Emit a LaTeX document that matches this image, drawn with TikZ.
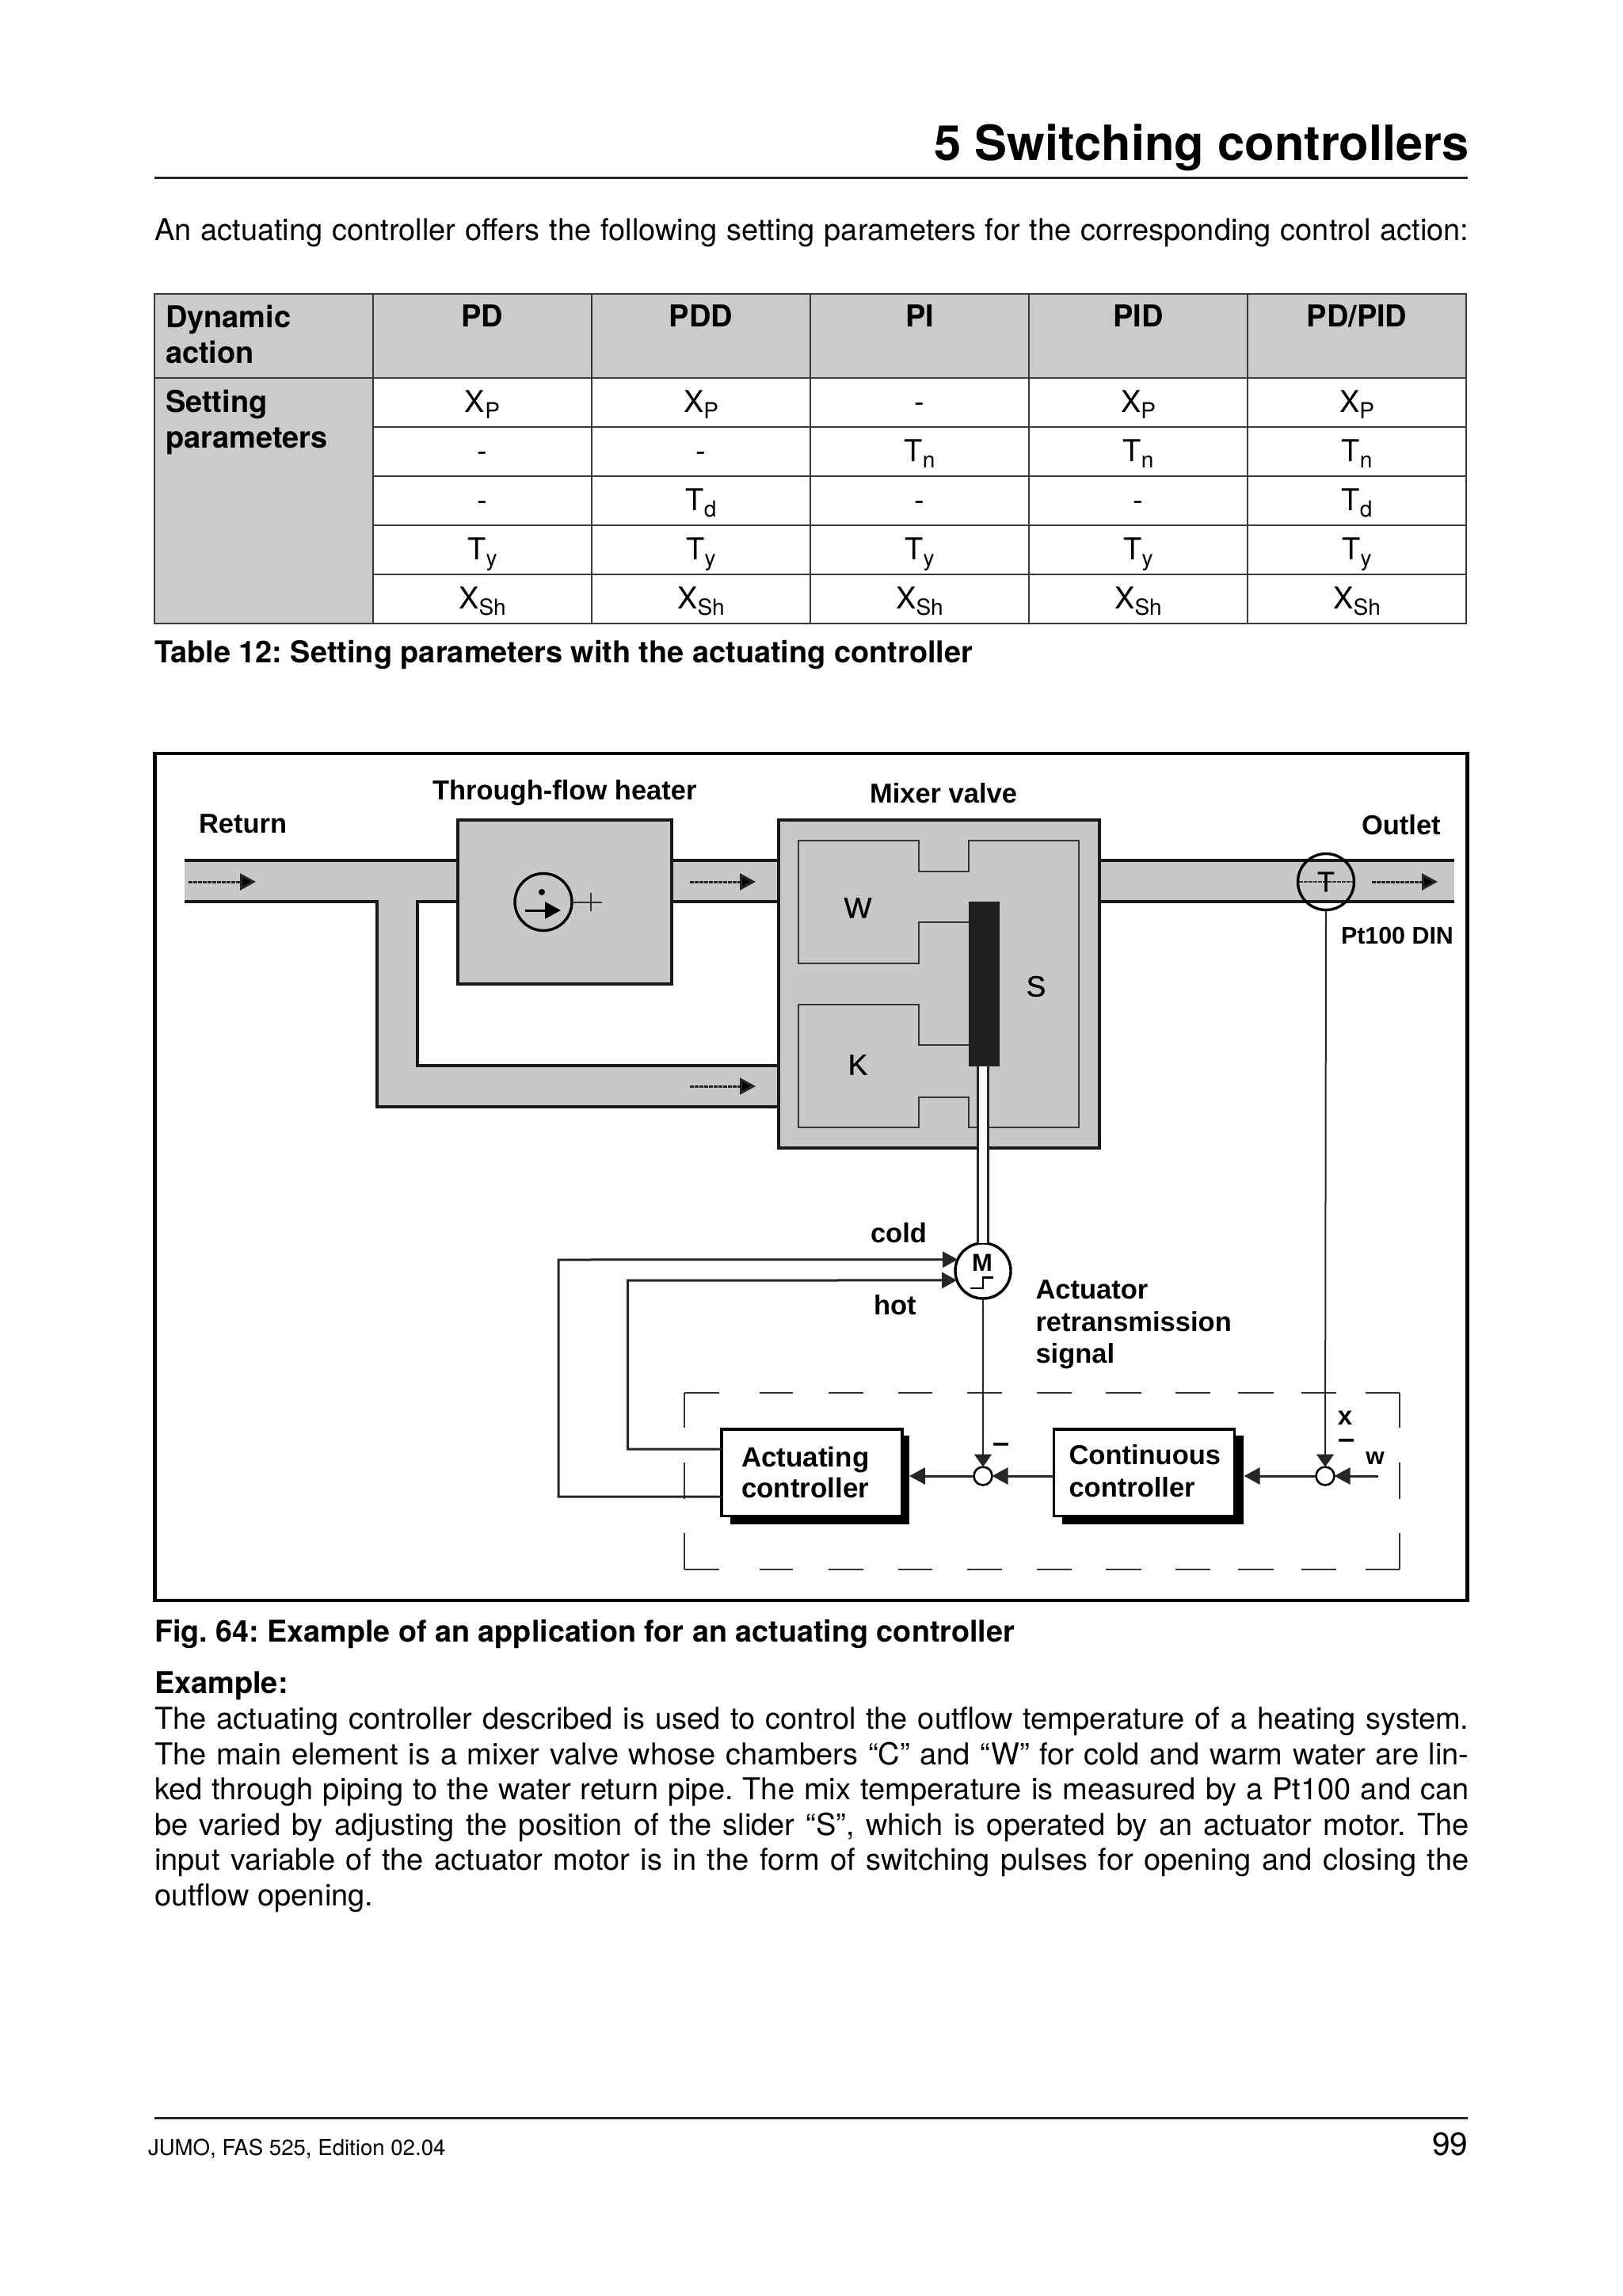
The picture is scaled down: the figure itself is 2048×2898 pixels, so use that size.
\documentclass[tikz,border=0pt]{standalone}
\usepackage{fontspec}
\setmainfont{TeX Gyre Heros}
\newfontfamily\figfont{Liberation Sans}
\newfontfamily\figmed[FakeBold=0.7]{Liberation Sans}
\usetikzlibrary{arrows.meta,calc,shapes.geometric}
\newcommand\fs[2]{\fontsize{#1}{#2}\selectfont}
\newcommand\subs[2]{#1\raisebox{-8pt}{\fs{28}{28}#2}}
\definecolor{pipegray}{HTML}{C8C8C8}
\definecolor{tablegray}{HTML}{CBCBCB}
\definecolor{tableline}{HTML}{3A3A3A}
\tikzset{
  txt/.style={inner sep=0pt,outer sep=0pt,anchor=base west,font=\fs{38}{45}},
  txtb/.style={txt,font=\fs{38}{45}\bfseries},
  cell/.style={inner sep=0pt,outer sep=0pt,anchor=base,font=\fs{38}{45}},
  cellb/.style={cell,font=\fs{38}{45}\bfseries},
  lab/.style={inner sep=0pt,outer sep=0pt,anchor=base west,font=\figfont\fs{34.5}{40}\bfseries},
  labc/.style={inner sep=0pt,outer sep=0pt,anchor=center,font=\figmed\fs{37}{40}},
  pipefill/.style={fill=pipegray,draw=none},
  pipeline/.style={line width=3.6pt,draw=black!90},
  blockg/.style={draw=black!90,fill=pipegray,line width=3.6pt,inner sep=0pt,outer sep=0pt},
  ctrl/.style={draw=black,fill=white,line width=3.4pt,inner sep=0pt,outer sep=0pt,align=left,
     minimum height=109.5pt,minimum width=228pt},
  sumc/.style={circle,draw=black,fill=white,line width=2.6pt,minimum size=23pt,inner sep=0pt,outer sep=0pt},
  sig/.style={line width=3pt,draw=black!85},
  sigthin/.style={line width=2pt,draw=black!85},
  arrowtip/.style={-{Triangle[length=20pt,width=21pt]}},
  arrowdown/.style={-{Triangle[length=16pt,width=22pt]}},
  flow/.style={line width=3pt,draw=black!85,dash pattern=on 5pt off 1pt,-{Triangle[length=20pt,width=21pt,fill=black,sep=0pt]}},
  dashseg/.style={line width=2.8pt,draw=black!80},
}
\newcommand\tabrow[7]{%
  \node[cell] (r#1a) at (609,#2) {#3};
  \node[cell] (r#1b) at (885,#2) {#4};
  \node[cell] (r#1c) at (1161,#2) {#5};
  \node[cell] (r#1d) at (1437,#2) {#6};
  \node[cell] (r#1e) at (1713,#2) {#7};}
\begin{document}
\frenchspacing
\begin{tikzpicture}[x=1pt,y=-1pt]
\useasboundingbox (0,0) rectangle (2048,2898);
\fill[white] (0,0) rectangle (2048,2898);

% ---------- header
\node[inner sep=0pt,outer sep=0pt,anchor=base east,font=\fs{61.4}{70}\bfseries] (title) at (1855,203) {5 Switching controllers};
\draw[line width=3pt,draw=black!85] (195,224) -- (1853,224);
\node[txt] (intro) at (195,303) {\makebox[1659.5pt][s]{An actuating controller offers the following setting parameters for the corresponding control action:}};

% ---------- table
\fill[tablegray] (195,371) rectangle (1851,477);
\fill[tablegray] (195,477) rectangle (471,787);
\draw[line width=2pt,draw=tableline] (195,371) rectangle (1851,787);
\draw[line width=2pt,draw=tableline] (195,477) -- (1851,477);
\foreach \yy in {539,601,663,725} \draw[line width=2pt,draw=tableline] (471,\yy) -- (1851,\yy);
\foreach \xx in {471,747,1023,1299,1575} \draw[line width=1.6pt,draw=tableline] (\xx,371) -- (\xx,787);
\node[txtb] (h0a) at (209,413) {Dynamic};
\node[txtb] (h0b) at (209,458) {action};
\node[cellb] (h1) at (609,412.5) {PD};
\node[cellb] (h2) at (885,412.5) {PDD};
\node[cellb] (h3) at (1161,412.5) {PI};
\node[cellb] (h4) at (1437,412.5) {PID};
\node[cellb] (h5) at (1713,412.5) {PD/PID};
\node[txtb] (s0a) at (209,520) {Setting};
\node[txtb] (s0b) at (209,565) {parameters};
\tabrow{1}{520}{\subs{X}{P}}{\subs{X}{P}}{-}{\subs{X}{P}}{\subs{X}{P}}
\tabrow{2}{582.5}{-}{-}{\subs{T}{n}}{\subs{T}{n}}{\subs{T}{n}}
\tabrow{3}{644.5}{-}{\subs{T}{d}}{-}{-}{\subs{T}{d}}
\tabrow{4}{706.5}{\subs{T}{y}}{\subs{T}{y}}{\subs{T}{y}}{\subs{T}{y}}{\subs{T}{y}}
\tabrow{5}{768}{\subs{X}{Sh}}{\subs{X}{Sh}}{\subs{X}{Sh}}{\subs{X}{Sh}}{\subs{X}{Sh}}
\node[txtb,font=\fs{37.9}{45}\bfseries] (tabcap) at (195,836) {Table 12: Setting parameters with the actuating controller};

% ---------- figure frame
\draw[line width=4.4pt,draw=black] (195.5,951) rectangle (1852.5,2020);

% pipes
\path[pipefill] (233,1086) -- (578,1086) -- (578,1138) -- (527,1138) -- (527,1345) -- (983,1345) -- (983,1397) -- (476,1397) -- (476,1138) -- (233,1138) -- cycle;
\path[pipefill] (848,1086) rectangle (983,1138);
\path[pipefill] (1388,1086) rectangle (1836,1138);
\draw[pipeline] (233,1086) -- (578,1086);
\draw[pipeline] (233,1138) -- (476,1138) -- (476,1397) -- (983,1397);
\draw[pipeline] (578,1138) -- (527,1138) -- (527,1345) -- (983,1345);
\draw[pipeline] (848,1086) -- (983,1086);
\draw[pipeline] (848,1138) -- (983,1138);
\draw[pipeline] (1388,1086) -- (1836,1086);
\draw[pipeline] (1388,1138) -- (1836,1138);

% heater and valve
\node[blockg,minimum width=270pt,minimum height=207pt] (heater) at (713,1138.5) {};
\node[blockg,minimum width=405pt,minimum height=414pt] (valve) at (1185.5,1242) {};
\draw[line width=2.8pt,draw=black!80] (1223,1164) -- (1160,1164) -- (1160,1216) -- (1008,1216) -- (1008,1061) -- (1160,1061) -- (1160,1100) -- (1223,1100) -- (1223,1061) -- (1362,1061) -- (1362,1423) -- (1223,1423) -- (1223,1385) -- (1160,1385) -- (1160,1423) -- (1008,1423) -- (1008,1268) -- (1160,1268) -- (1160,1319) -- (1223,1319);
\node[draw=none,fill=black!88,inner sep=0pt,outer sep=0pt,minimum width=39pt,minimum height=208pt] (slider) at (1242.5,1242) {};
\node[labc] (lw) at (1083,1146) {W};
\node[labc] (ls) at (1308,1245) {S};
\node[labc] (lk) at (1083,1344) {K};

% heater symbol
\node[circle,draw=black,line width=3.4pt,minimum size=72pt,inner sep=0pt,outer sep=0pt] (hsym) at (686,1138.5) {};
\fill[black] (684,1126) circle (4pt);
\coordinate (ha) at (663,1149);
\coordinate (hb) at (708,1149);
\draw[line width=3pt,-{Triangle[length=20pt,width=21pt]}] (ha) -- (hb);
\coordinate (hp) at (760,1138.5);
\draw[line width=2pt,draw=black!80] (hsym.east) -- (hp);
\draw[line width=2pt,draw=black!80] (746,1127) -- (746,1150);

% flow arrows
\coordinate (f1a) at (238,1113); \coordinate (f1b) at (323,1113);
\coordinate (f2a) at (871,1113); \coordinate (f2b) at (954,1113);
\coordinate (f3a) at (871,1371); \coordinate (f3b) at (954,1371);
\coordinate (f4a) at (1732,1113); \coordinate (f4b) at (1815,1113);
\draw[flow] (f1a) -- (f1b);
\draw[flow] (f2a) -- (f2b);
\draw[flow] (f3a) -- (f3b);
\draw[flow] (f4a) -- (f4b);

% sensor
\coordinate (tl) at (1640,1113); \coordinate (tr) at (1709,1113);
\draw[line width=2.4pt,draw=black!80,dash pattern=on 5pt off 1pt] (tl) -- (tr);
\node[circle,draw=black,line width=3.4pt,minimum size=71pt,inner sep=0pt,outer sep=0pt,font=\figmed\fs{36}{36}] (tsens) at (1674,1113) {T};

% figure labels
\node[lab] (lret) at (251,1051) {Return};
\node[lab] (lheat) at (546,1009) {Through-flow heater};
\node[lab] (lmix) at (1098,1013) {Mixer valve};
\node[lab] (lout) at (1719,1053) {Outlet};
\node[lab,font=\figfont\fs{30.4}{34}\bfseries] (lpt) at (1693,1191) {Pt100 DIN};
\node[lab] (lcold) at (1099,1568.5) {cold};
\node[lab] (lhot) at (1103,1659) {hot};
\node[lab] (la1) at (1307.5,1639) {Actuator};
\node[lab] (la2) at (1307.5,1680) {retransmission};
\node[lab] (la3) at (1307.5,1720) {signal};
\node[labc,font=\figfont\fs{33}{33}\bfseries] (lx) at (1698,1790) {x};
\node[labc,font=\figfont\fs{30}{30}\bfseries] (lwl) at (1736,1841) {w};
\node[lab,anchor=base,font=\figfont\fs{38}{38}\bfseries] (lm1) at (1264.5,1833) {–};
\node[lab,anchor=base,font=\figfont\fs{38}{38}\bfseries] (lm2) at (1700.5,1828) {–};

% dashed enclosure
\foreach \aa/\bb in {864/908,958.6/1001.4,1045.8/1090.2,1133.8/1177.4,1221/1265.4,1309/1353.4,1396.3/1440.7,1483.6/1528,1563/1607.5,1642.7/1687,1724/1767}{
  \draw[dashseg] (\aa,1758) -- (\bb,1758);
  \draw[dashseg] (\aa,1981) -- (\bb,1981);
}
\foreach \xx in {864,1767}{
  \draw[line width=2pt,draw=black!80] (\xx,1758) -- (\xx,1802);
  \draw[line width=2pt,draw=black!80] (\xx,1846) -- (\xx,1892);
  \draw[line width=2pt,draw=black!80] (\xx,1935) -- (\xx,1981);
}

% motor
\node[circle,draw=black,fill=white,line width=3.4pt,minimum size=70pt,inner sep=0pt,outer sep=0pt] (motor) at (1241,1604) {};
\draw[line width=2.6pt,double=white,double distance=10pt,draw=black!85] (motor.north |- slider.south) -- (motor.north);
\node[inner sep=0pt,outer sep=0pt,font=\figfont\fs{31}{31}\bfseries] (lM) at (1240,1594) {M};
\draw[line width=2.8pt] (1225,1626) -- (1241,1626) -- (1241,1612.5) -- (1254,1612.5);

% controllers
\fill[black] (922,1812) rectangle (1148,1924);
\fill[black] (1341,1812) rectangle (1570,1924);
\node[ctrl,text width=178pt,font=\figfont\fs{35}{39}\bfseries] (act) at (1025,1858.75) {Actuating\\controller};
\node[ctrl,text width=190pt,font=\figfont\fs{34.5}{41}\bfseries] (cont) at (1444.5,1858.75) {Continuous\\controller\rule[-4pt]{0pt}{4pt}};
\node[sumc] (sum1) at (1241,1863) {};
\node[sumc] (sum2) at (1673,1863) {};
\coordinate (wstart) at (1740,1863);
\coordinate (coldc) at (705,1590);
\coordinate (hotc) at (792.5,1616);

% connectors
\draw[sig,arrowtip] (sum1.west) -- (act.east |- sum1.west) [shorten >=9pt];
\draw[sig,arrowtip] (cont.west |- sum1.east) -- (sum1.east);
\draw[sig,arrowtip] (sum2.west) -- (cont.east |- sum2.west) [shorten >=12pt];
\draw[sig,arrowtip] (wstart) -- (sum2.east);
\draw[sigthin,arrowdown] (motor.south) -- (sum1.north);
\draw[sigthin,arrowdown] (tsens.south) -- (sum2.north);
\draw[sig,-{Triangle[length=19pt,width=20pt]}] (act.west |- 0,1889) -- (705,1889) -- (coldc) -- (motor.156);
\draw[sig,-{Triangle[length=19pt,width=20pt]}] (act.west |- 0,1829) -- (792.5,1829) -- (hotc) -- (motor.200);

% ---------- text below
\node[txtb,font=\fs{37.75}{45}\bfseries] (figcap) at (195,2072) {Fig. 64: Example of an application for an actuating controller};
\node[txtb] (exh) at (195,2137) {Example:};
\node[txt] (b1) at (195,2182) {\makebox[1659.5pt][s]{The actuating controller described is used to control the outflow temperature of a heating system.}};
\node[txt] (b2) at (195,2227) {\makebox[1659.5pt][s]{The main element is a mixer valve whose chambers “C” and “W” for cold and warm water are lin-}};
\node[txt] (b3) at (195,2271) {\makebox[1659.5pt][s]{ked through piping to the water return pipe. The mix temperature is measured by a Pt100 and can}};
\node[txt] (b4) at (195,2316) {\makebox[1659.5pt][s]{be varied by adjusting the position of the slider “S”, which is operated by an actuator motor. The}};
\node[txt] (b5) at (195,2360) {\makebox[1659.5pt][s]{input variable of the actuator motor is in the form of switching pulses for opening and closing the}};
\node[txt] (b6) at (195,2405) {outflow opening.};

% ---------- footer
\draw[line width=3pt,draw=black!85] (195,2673) -- (1853,2673);
\node[inner sep=0pt,outer sep=0pt,anchor=base west,font=\fs{27.6}{32}] (foot) at (187,2720) {JUMO, FAS 525, Edition 02.04};
\node[inner sep=0pt,outer sep=0pt,anchor=base east,font=\fs{40.6}{46}] (pageno) at (1853.5,2720.5) {99};
\end{tikzpicture}
\end{document}
